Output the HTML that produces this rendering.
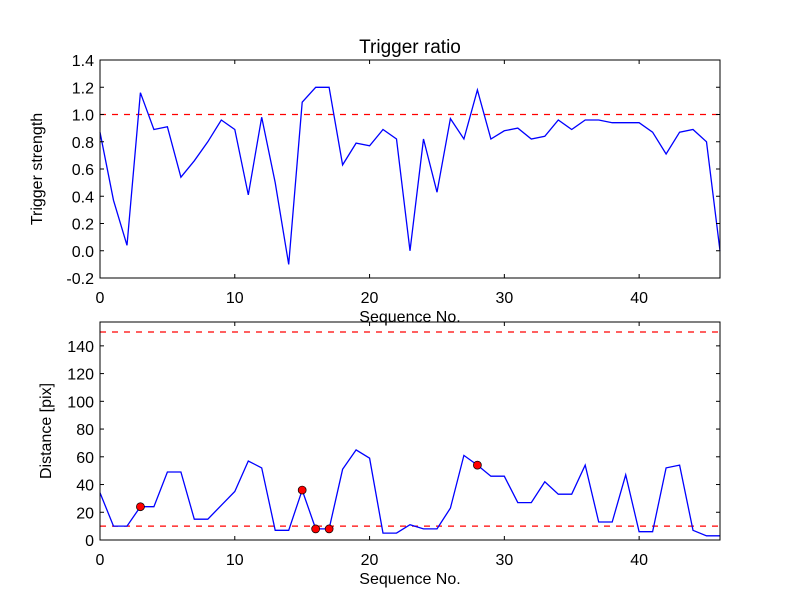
<!DOCTYPE html>
<html><head><meta charset="utf-8"><style>body{margin:0;background:#fff}svg{font-family:"Liberation Sans",sans-serif}</style></head>
<body>
<svg id="c" width="800" height="600"></svg>
<script>
const seq = [...Array(47).keys()];
const strength = [0.87,0.37,0.04,1.16,0.89,0.91,0.54,0.66,0.8,0.96,0.89,0.41,0.98,0.5,-0.1,1.09,1.2,1.2,0.63,0.79,0.77,0.89,0.82,0.0,0.82,0.43,0.97,0.82,1.18,0.82,0.88,0.9,0.82,0.84,0.96,0.89,0.96,0.96,0.94,0.94,0.94,0.87,0.71,0.87,0.89,0.8,0.0];
const distance = [34,10,10,24,24,49,49,15,15,25,35,57,52,7,7,36,8,8,51,65,59,5,5,11,8,8,23,61,54,46,46,27,27,42,33,33,54,13,13,47,6,6,52,54,7,3,3];
const markerIdx = [3,15,16,17,28];
const xTicks = [0,10,20,30,40];
const yTicksTop = [-0.2,0.0,0.2,0.4,0.6,0.8,1.0,1.2,1.4];
const yTicksBot = [0,20,40,60,80,100,120,140];
const topThreshold = [1.0];
const botThresholds = [10,150];

const svg=document.getElementById('c');const NS='http://www.w3.org/2000/svg';
function el(t,a,p){const e=document.createElementNS(NS,t);for(const k in a)e.setAttribute(k,a[k]);(p||svg).appendChild(e);return e;}
function panel(name,top,bot,ymin,ymax,yt,fmt,title,ylabel){
  const L=100,R=720;
  const g=el('g',{});
  
  
  const sx=v=>L+(v-0)/(46-0)*(R-L);
  const sy=v=>bot-(v-ymin)/(ymax-ymin)*(bot-top);
  return {g,sx,sy,L,R,top,bot,yt,fmt,title,ylabel};
}
function axes(p){
  const {g,sx,sy,L,R,top,bot}=p;
  xTicks.forEach(v=>{const x=sx(v);
    el('line',{x1:x,x2:x,y1:bot,y2:bot-4,stroke:'#000'},g);el('line',{x1:x,x2:x,y1:top,y2:top+4,stroke:'#000'},g);
    const t=el('text',{x:x,y:bot+25,'text-anchor':'middle','font-size':16},g);t.textContent=v;
    });
  p.yt.forEach(v=>{const y=sy(v);
    el('line',{x1:L,x2:L+4,y1:y,y2:y,stroke:'#000'},g);el('line',{x1:R,x2:R-4,y1:y,y2:y,stroke:'#000'},g);
    const t=el('text',{x:L-6,y:y+6,'text-anchor':'end','font-size':16},g);t.textContent=p.fmt(v);
    });
  const r=el('rect',{x:L,y:top,width:R-L,height:bot-top,fill:'none',stroke:'#000','stroke-width':1},g);
  
  const xl=el('text',{x:(L+R)/2,y:bot+44,'text-anchor':'middle','font-size':16},g);xl.textContent='Sequence No.';
  
  const cy=(top+bot)/2;
  const yl=el('text',{x:0,y:0,'text-anchor':'middle','font-size':16,transform:`translate(${p.ylx},${cy}) rotate(-90)`},g);yl.textContent=p.ylabel;
  
  if(p.title){const t=el('text',{x:(L+R)/2,y:top-7,'text-anchor':'middle','font-size':19},g);t.textContent=p.title;
    }
}
function line(p,vals,name){
  const d=vals.map((v,i)=>(i?'L':'M')+p.sx(seq[i]).toFixed(1)+','+p.sy(v).toFixed(1)).join('');
  const e=el('path',{d,fill:'none',stroke:'#0000ff','stroke-width':1.3},p.g);
  
}
function hline(p,v){const y=p.sy(v);
  const e=el('line',{x1:p.L,x2:p.R,y1:y,y2:y,stroke:'#ff0000','stroke-width':1.3,'stroke-dasharray':'6,6'},p.g);
  }
const p1=panel('top-panel',60,278,-0.2,1.4,yTicksTop,v=>v.toFixed(1),'Trigger ratio','Trigger strength');p1.ylx=42;
const p2=panel('bottom-panel',322,540,0,157.2,yTicksBot,v=>String(v),null,'Distance [pix]');p2.ylx=51;
topThreshold.forEach(v=>hline(p1,v));
line(p1,strength,'strength-line');
axes(p1);
botThresholds.forEach(v=>hline(p2,v));
line(p2,distance,'distance-line');
markerIdx.forEach(i=>{const c=el('circle',{cx:p2.sx(seq[i]),cy:p2.sy(distance[i]),r:4,fill:'#ff0000',stroke:'#000','stroke-width':0.7},p2.g);
  });
axes(p2);
</script>
</body></html>
